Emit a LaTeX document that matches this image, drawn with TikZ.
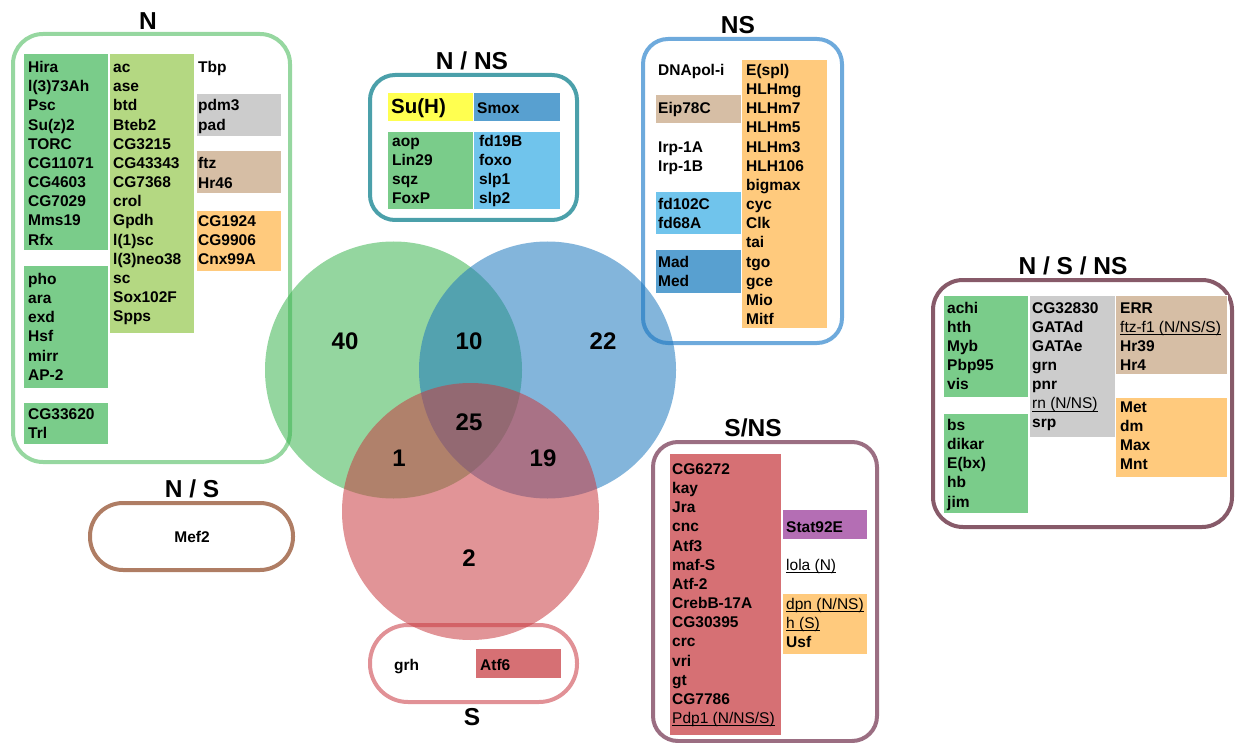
\documentclass[tikz,border=0pt]{standalone}
\usepackage{fontspec}
\setmainfont{Liberation Sans}
\definecolor{vgreen}{RGB}{60,180,80}
\definecolor{vblue}{RGB}{30,120,190}
\definecolor{vred}{RGB}{200,60,65}
\definecolor{dkgreen}{RGB}{122,204,138}
\definecolor{ltgreen}{RGB}{180,216,130}
\definecolor{cgrey}{RGB}{204,204,204}
\definecolor{ctan}{RGB}{214,190,165}
\definecolor{corange}{RGB}{255,202,125}
\definecolor{cyellow}{RGB}{255,255,80}
\definecolor{midblue}{RGB}{88,160,208}
\definecolor{ltblue}{RGB}{112,196,236}
\definecolor{cred}{RGB}{214,112,116}
\definecolor{cpurple}{RGB}{180,110,180}
\definecolor{oN}{RGB}{150,215,160}
\definecolor{oNNS}{RGB}{75,160,170}
\definecolor{oNS}{RGB}{110,170,220}
\definecolor{oNSNS}{RGB}{135,90,105}
\definecolor{oSNS}{RGB}{155,110,130}
\definecolor{oS}{RGB}{225,145,150}
\definecolor{oNandS}{RGB}{175,125,100}
\newcommand\und[1]{\textmd{\setbox0\hbox{#1}\rlap{\rule[-2.7pt]{\wd0}{0.9pt}}\box0}}
\newcommand\genes[4]{%
  \foreach \g [count=\i from 0] in {#4} {
    \node[gene] (#1\i) at (#2,{#3+\i*19.15}) {\g};
  }}
\tikzset{
  gene/.style={anchor=base west,inner sep=0pt,font=\bfseries\fontsize{15.5}{19}\selectfont},
  ttl/.style={anchor=base,inner sep=0pt,font=\bfseries\fontsize{24.5}{28}\selectfont},
  num/.style={anchor=base,inner sep=0pt,font=\bfseries\fontsize{24}{28}\selectfont},
  blk/.style={draw=white,line width=0.8pt},
  outl/.style={line width=4pt},
}
\begin{document}
\begin{tikzpicture}[x=1pt,y=-1pt]
\useasboundingbox (0,0) rectangle (1236,743);
% ---------- N box ----------
\node[ttl] (tN) at (148,29.3) {N};
\draw[outl,oN,rounded corners=30pt] (13,34) rectangle (290,462);
\fill[dkgreen,blk] (23,53) rectangle (108,250);
\fill[dkgreen,blk] (23,265) rectangle (108,388);
\fill[dkgreen,blk] (23,402) rectangle (108,444);
\fill[ltgreen,blk] (109,53) rectangle (194,333);
\fill[cgrey,blk] (196,93) rectangle (281,136);
\fill[ctan,blk] (196,150) rectangle (281,193);
\fill[corange,blk] (196,210) rectangle (281,271);
\genes{na}{28}{72.7}{Hira,l(3)73Ah,Psc,Su(z)2,TORC,CG11071,CG4603,CG7029,Mms19,Rfx}
\genes{nb}{28}{284.5}{pho,ara,exd,Hsf,mirr,AP-2}
\genes{nc}{28}{419}{CG33620,Trl}
\genes{nd}{113}{72.7}{ac,ase,btd,Bteb2,CG3215,CG43343,CG7368,crol,Gpdh,l(1)sc,l(3)neo38,sc,Sox102F,Spps}
\genes{ne}{198}{72.7}{Tbp}
\genes{nf}{198}{111}{pdm3,pad}
\genes{ng}{198}{169}{ftz,Hr46}
\genes{nh}{198}{226.5}{CG1924,CG9906,Cnx99A}
% ---------- N / NS box ----------
\node[ttl] (tNNS) at (472,69.3) {N / NS};
\draw[outl,oNNS,rounded corners=25pt] (370,75) rectangle (577,220);
\fill[cyellow,blk] (387,92) rectangle (473,121);
\fill[midblue,blk] (473,92) rectangle (560,121);
\fill[dkgreen,blk] (387,131) rectangle (473,209);
\fill[ltblue,blk] (473,131) rectangle (560,209);
\node[gene,font=\bfseries\fontsize{20.5}{24}\selectfont] (suh) at (391,114) {Su(H)};
\node[gene] (smox) at (477,113.5) {Smox};
\genes{ma}{392}{146.5}{aop,Lin29,sqz,FoxP}
\genes{mb}{479}{146.5}{fd19B,foxo,slp1,slp2}
% ---------- NS box ----------
\node[ttl] (tNS) at (738,33.3) {NS};
\draw[outl,oNS,rounded corners=25pt] (643,39) rectangle (842,343);
\fill[ctan,blk] (655,94) rectangle (741,123);
\fill[ltblue,blk] (655,191) rectangle (741,234);
\fill[midblue,blk] (655,249) rectangle (741,293);
\fill[corange,blk] (741,59) rectangle (827,328);
\genes{sa}{658}{75.5}{DNApol-i}
\genes{sb}{658}{114}{Eip78C}
\genes{sc}{658}{152.5}{Irp-1A,Irp-1B}
\genes{sd}{658}{209.5}{fd102C,fd68A}
\genes{se}{658}{267}{Mad,Med}
\genes{sf}{746}{75.5}{E(spl),HLHmg,HLHm7,HLHm5,HLHm3,HLH106,bigmax,cyc,Clk,tai,tgo,gce,Mio,Mitf}
% ---------- N / S / NS box ----------
\node[ttl] (tNSNS) at (1073,275) {N / S / NS};
\draw[outl,oNSNS,rounded corners=30pt] (933,280) rectangle (1232,527);
\fill[dkgreen,blk] (943,295) rectangle (1028,397);
\fill[dkgreen,blk] (943,413) rectangle (1028,513);
\fill[cgrey,blk] (1029,295) rectangle (1115,437);
\fill[ctan,blk] (1115,295) rectangle (1227,374);
\fill[corange,blk] (1115,397) rectangle (1227,477);
\genes{ta}{947}{313}{achi,hth,Myb,Pbp95,vis}
\genes{tb}{947}{430.5}{bs,dikar,E(bx),hb,jim}
\genes{tc}{1032}{313}{CG32830,GATAd,GATAe,grn,pnr,{\und{rn (N/NS)}},srp}
\genes{td}{1120}{313}{ERR,{\und{ftz-f1 (N/NS/S)}},Hr39,Hr4}
\genes{te}{1120}{412}{Met,dm,Max,Mnt}
% ---------- S / NS box ----------
\node[ttl] (tSNS) at (753,436) {S/NS};
\draw[outl,oSNS,rounded corners=25pt] (653,442) rectangle (877,741);
\fill[cred,blk] (669,453) rectangle (781,735);
\fill[cpurple,blk] (782,509) rectangle (867,539);
\fill[corange,blk] (782,593) rectangle (867,654);
\genes{ua}{672}{474.5}{CG6272,kay,Jra,cnc,Atf3,maf-S,Atf-2,CrebB-17A,CG30395,crc,vri,gt,CG7786,{\und{Pdp1 (N/NS/S)}}}
\genes{ub}{786}{532}{Stat92E}
\genes{uc}{786}{570.5}{{\und{lola (N)}}}
\genes{ud}{786}{609}{{\und{dpn (N/NS)}},{\und{h (S)}},Usf}
% ---------- S box ----------
\draw[outl,oS,rounded corners=38pt] (370,625) rectangle (577,702);
\fill[cred,blk] (475,648) rectangle (561,678);
\node[gene] (grh) at (394,670.5) {grh};
\node[gene] (atf6) at (480,670.5) {Atf6};
\node[ttl] (tS) at (472,725) {S};
% ---------- N / S box ----------
\node[ttl] (tNandS) at (192,497) {N / S};
\draw[outl,oNandS,rounded corners=33pt] (90,503) rectangle (293,570);
\node[gene,anchor=base] (mef2) at (192,542) {Mef2};
% ---------- Venn ----------
\fill[vgreen,opacity=0.55] (393.5,370) circle (128.5pt);
\fill[vblue,opacity=0.55] (547.5,370) circle (128.5pt);
\fill[vred,opacity=0.55] (470.5,511.5) circle (128.5pt);
\node[num] (n40) at (345,349.3) {40};
\node[num] (n10) at (469,349.3) {10};
\node[num] (n22) at (603,349.3) {22};
\node[num] (n25) at (469,430) {25};
\node[num] (n1) at (399,466) {1};
\node[num] (n19) at (543,466) {19};
\node[num] (n2) at (469,566.7) {2};
\end{tikzpicture}
\end{document}
